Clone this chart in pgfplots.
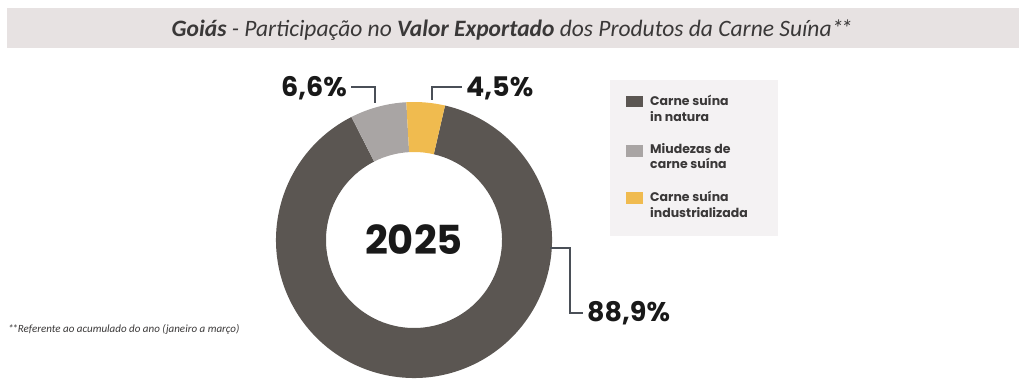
\documentclass[border=0pt]{standalone}
\usepackage{pgfplots}
\usepackage{pgfplotstable}
\pgfplotsset{compat=1.18}
\usepackage{fontspec}
\setmainfont{Carlito}
\newfontfamily\pop{Poppins}
\definecolor{cA}{HTML}{5B5652}
\definecolor{cB}{HTML}{A9A5A4}
\definecolor{cC}{HTML}{F0BB4F}
\definecolor{titlebg}{HTML}{E7E2E2}
\definecolor{legbg}{HTML}{F4F2F3}
\definecolor{txt}{HTML}{3A3838}
\definecolor{lead}{HTML}{4A4F57}
\pgfplotstableread{
cat value
1 88.9
2 6.6
3 4.5
}\shares
\pgfplotstablegetelem{0}{value}\of\shares \let\vA\pgfplotsretval
\pgfplotstablegetelem{1}{value}\of\shares \let\vB\pgfplotsretval
\pgfplotstablegetelem{2}{value}\of\shares \let\vC\pgfplotsretval
\pgfmathsetmacro{\aStart}{77}
\pgfmathsetmacro{\aAB}{\aStart-3.6*\vA}
\pgfmathsetmacro{\aBC}{\aAB-3.6*\vB}
\pgfmathsetmacro{\aEnd}{\aBC-3.6*\vC}
\newcommand{\sector}[3]{%
  \fill[#3] ([shift={(#1:138pt)}]axis cs:414,142) arc[start angle=#1,end angle=#2,radius=138pt]
   -- ([shift={(#2:88pt)}]axis cs:414,142) arc[start angle=#2,end angle=#1,radius=88pt] -- cycle;}
\newcommand{\stars}{*\kern-0.12em*}
\begin{document}
\begin{tikzpicture}
\useasboundingbox (0,0) rectangle (1024pt,382pt);
\begin{axis}[width=1024pt,height=382pt,scale only axis,xmin=0,xmax=1024,ymin=0,ymax=382,hide axis,clip=false]
% title bar
\fill[titlebg] (axis cs:7,334) rectangle (axis cs:1019,374);
\node[anchor=base,text=txt,font=\fontsize{23.5}{26}\selectfont\itshape] at (axis cs:512,345)
 {\textbf{Goiás} - Participação no \textbf{Valor Exportado} dos Produtos da Carne Suína\stars};
% donut
\sector{\aStart}{\aAB}{cA}
\sector{\aAB}{\aBC}{cB}
\sector{\aBC}{\aEnd}{cC}
\node[text=black!90,font=\pop\bfseries\fontsize{40}{44}\selectfont] at (axis cs:414,142) {2025};
% leaders
\draw[lead,line width=1.1pt] (axis cs:375,279) -- (axis cs:375,295) -- (axis cs:351,295);
\draw[lead,line width=1.1pt] (axis cs:432,282) -- (axis cs:432,295) -- (axis cs:462,295);
\draw[lead,line width=1.1pt] (axis cs:550,134) -- (axis cs:570,134) -- (axis cs:570,69) -- (axis cs:583,69);
\node[anchor=east,inner sep=0pt,text=black!90,font=\pop\bfseries\fontsize{27}{30}\selectfont] at (axis cs:347,294) {6,6\%};
\node[anchor=west,inner sep=0pt,text=black!90,font=\pop\bfseries\fontsize{27}{30}\selectfont] at (axis cs:466,294) {4,5\%};
\node[anchor=west,inner sep=0pt,text=black!90,font=\pop\bfseries\fontsize{27}{30}\selectfont] at (axis cs:587,69) {88,9\%};
% legend
\fill[legbg] (axis cs:610,146) rectangle (axis cs:778,302);
\fill[cA] (axis cs:626,275) rectangle (axis cs:643,286);
\fill[cB] (axis cs:626,225) rectangle (axis cs:643,237);
\fill[cC] (axis cs:626,178) rectangle (axis cs:643,190);
\tikzset{lg/.style={anchor=base west,inner sep=0pt,text=txt,font=\pop\bfseries\fontsize{12.5}{14}\selectfont}}
\node[lg] at (axis cs:650,276) {Carne suína};
\node[lg] at (axis cs:650,260) {in natura};
\node[lg] at (axis cs:650,228) {Miudezas de};
\node[lg] at (axis cs:650,213) {carne suína};
\node[lg] at (axis cs:650,180) {Carne suína};
\node[lg] at (axis cs:650,164) {industrializada};
% footnote
\node[anchor=base west,inner sep=0pt,text=txt,font=\fontsize{11}{12}\selectfont\itshape] at (axis cs:8,49)
 {\stars Referente ao acumulado do ano (janeiro a março)};
\end{axis}
\end{tikzpicture}
\end{document}
